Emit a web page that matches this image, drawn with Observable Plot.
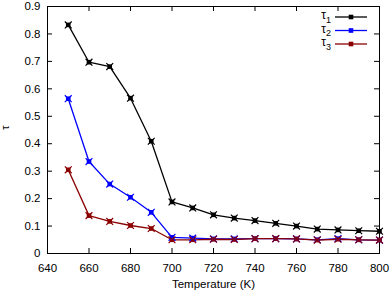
<!DOCTYPE html>
<html><head><meta charset="utf-8">
<script src="https://cdn.jsdelivr.net/npm/d3@7"></script>
<script src="https://cdn.jsdelivr.net/npm/@observablehq/plot@0.6"></script>
<style>body{margin:0;background:#fff}svg{font-family:"Liberation Sans",Arial,sans-serif}</style>
</head><body><div id="chart"></div>
<script>
const temps = [650,660,670,680,690,700,710,720,730,740,750,760,770,780,790,800];
const tau1 = [0.833,0.697,0.681,0.566,0.409,0.188,0.166,0.141,0.129,0.120,0.110,0.100,0.089,0.086,0.083,0.081];
const tau2 = [0.564,0.335,0.253,0.205,0.150,0.059,0.056,0.053,0.053,0.054,0.054,0.053,0.050,0.054,0.050,0.049];
const tau3 = [0.305,0.138,0.117,0.102,0.091,0.050,0.050,0.052,0.051,0.054,0.054,0.053,0.049,0.052,0.050,0.049];
const seriesNames = ["1","2","3"];
const colors = ["#000000","#0000ff","#8b0000"];
const xTicks = [640,660,680,700,720,740,760,780,800];
const yTicks = [0,0.1,0.2,0.3,0.4,0.5,0.6,0.7,0.8,0.9];

const W = 392, H = 295, mL = 47, mR = 13, mT = 6, mB = 42;
const fw = W - mL - mR, fh = H - mT - mB;
const rows = [];
[tau1,tau2,tau3].forEach((arr,i)=>arr.forEach((v,j)=>rows.push({s:seriesNames[i], x:temps[j], y:v})));
const color = {domain: seriesNames, range: colors};

const marks = [
  Plot.frame({stroke:"#000", strokeWidth:1}),
  Plot.tickX(xTicks, {x:d=>d, insetTop: fh-5, stroke:"#000"}),
  Plot.tickX(xTicks, {x:d=>d, insetBottom: fh-5, stroke:"#000"}),
  Plot.tickY(yTicks, {y:d=>d, insetRight: fw-5, stroke:"#000"}),
  Plot.tickY(yTicks, {y:d=>d, insetLeft: fw-5, stroke:"#000"}),
  Plot.axisX(xTicks, {tickSize:0, tickPadding:10, fontSize:11.5, fill:"#000", label:null}),
  Plot.axisY(yTicks, {tickSize:0, tickPadding:7, fontSize:11.5, fill:"#000", label:null, tickFormat:d=>d===0?"0":d3.format(".1f")(d)}),
  Plot.line(rows, {x:"x", y:"y", z:"s", stroke:d=>d.s, strokeWidth:1.3}),
  Plot.dot(rows, {x:"x", y:"y", fill:d=>d.s, symbol:"square", r:2.6}),
  Plot.dot(rows, {x:"x", y:"y", stroke:d=>d.s, symbol:"times", r:3.2, strokeWidth:1.2}),
  Plot.text(["Temperature (K)"], {text:d=>d, frameAnchor:"bottom", dy:34, fontSize:11.5, fill:"#000"}),
  Plot.text(["τ"], {text:d=>d, frameAnchor:"left", dx:-42, rotate:-90, fontSize:11.5, fill:"#000"})
];

const svg = Plot.plot({
  width: W, height: H,
  marginLeft: mL, marginRight: mR, marginTop: mT, marginBottom: mB,
  x: {domain:[640,800], axis:null},
  y: {domain:[0,0.9], axis:null},
  color,
  style:{fontFamily:'"Liberation Sans",Arial,sans-serif', background:"#fff"},
  marks
});

// legend (top right, inside frame)
const g = d3.select(svg).append("g");
const sc = svg.scale("color");
seriesNames.forEach((s,i)=>{
  const y = 17 + i*13.5;
  const c = sc.apply(s);
  const t = g.append("text").attr("x",331).attr("y",y).attr("text-anchor","end")
    .attr("dy","0.2em").attr("font-size",12).attr("fill","#000");
  t.append("tspan").text("τ");
  t.append("tspan").attr("font-size",9).attr("dy","0.35em").text(s);
  g.append("line").attr("x1",335).attr("x2",367).attr("y1",y).attr("y2",y).attr("stroke",c).attr("stroke-width",1.3);
  g.append("rect").attr("x",351-2.3).attr("y",y-2.3).attr("width",4.6).attr("height",4.6).attr("fill",c);
});
document.getElementById("chart").appendChild(svg);
</script></body></html>
